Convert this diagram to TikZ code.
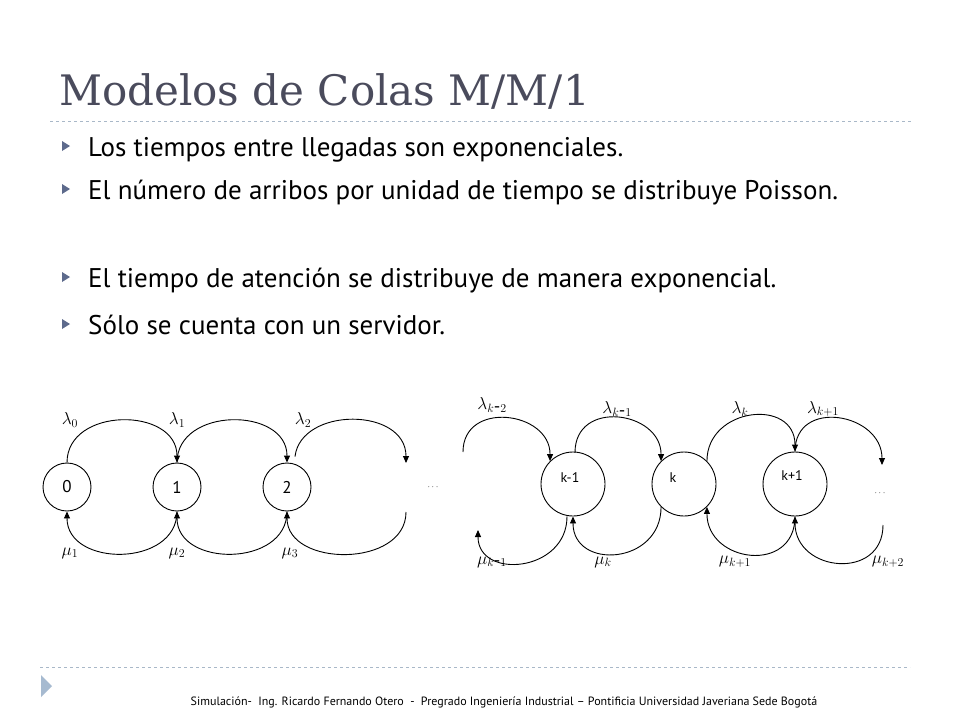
\documentclass[tikz,border=0pt]{standalone}
\usepackage{fontspec}
\setmainfont{PT Sans}
\newfontfamily\titlefont{DejaVu Serif}
\usetikzlibrary{arrows.meta}
\definecolor{titlegray}{HTML}{4A4B5C}
\definecolor{rulecol}{HTML}{A9B8C8}
\definecolor{bulletcol}{HTML}{5D6A8C}
\definecolor{chevcol}{HTML}{A6BAD0}
\tikzset{
  st/.style={circle,draw,line width=0.9pt,inner sep=0pt},
  ar/.style={line width=0.9pt,-{Triangle[length=7pt,width=6pt]}},
  lb/.style={font=\fontsize{18}{18}\selectfont},
  bul/.style={fill=bulletcol},
  btxt/.style={anchor=base west,font=\fontsize{27}{40}\selectfont,inner sep=0pt}
}
\begin{document}
\begin{tikzpicture}[x=1pt,y=-1pt]
\useasboundingbox (0,0) rectangle (960,720);
\fill[white] (0,0) rectangle (960,720);
% title
\node[anchor=base west,inner sep=0pt,text=titlegray,font=\titlefont\fontsize{42}{44}\selectfont] (title) at (59,105) {Modelos de Colas M/M/1};
\draw[rulecol,dashed,line width=0.8pt] (50,121) -- (912,121);
% bullets
\foreach \yy in {156,199,287,334}{\fill[bul] (62,\yy-15) -- (70,\yy-10) -- (62,\yy-5) -- cycle;}
\node[btxt] (b1) at (88,156) {Los tiempos entre llegadas son exponenciales.};
\node[btxt,text width=815pt,align=justify] (b2) at (88,199) {El número de arribos por unidad de tiempo se distribuye Poisson.};
\node[btxt] (b3) at (88,287) {El tiempo de atención se distribuye de manera exponencial.};
\node[btxt] (b4) at (88,334) {Sólo se cuenta con un servidor.};
% left diagram
\node[st,minimum size=48pt] (s0) at (67,487) {\fontsize{17}{17}\selectfont 0};
\node[st,minimum size=48pt] (s1) at (177,487) {\fontsize{17}{17}\selectfont 1};
\node[st,minimum size=48pt] (s2) at (287,487) {\fontsize{17}{17}\selectfont 2};
\coordinate (la) at (406,463);
\coordinate (lb) at (406,512);
\draw[ar] (s0.north) .. controls +(0,-56) and +(0,-56) .. (s1.north);
\draw[ar] (s1.north) .. controls +(0,-56) and +(0,-56) .. (s2.north);
\draw[ar] (s2.north) ++(8,-6) coordinate (s2n) .. controls +(6,-50) and +(0,-56) .. (la);
\draw[ar] (s1.south) .. controls +(0,56) and +(0,56) .. (s0.south);
\draw[ar] (s2.south) .. controls +(0,56) and +(0,56) .. (s1.south);
\draw[ar] (lb) .. controls +(0,56) and +(0,56) .. (s2.south);
\node[lb] (l0) at (70,420) {$\lambda_0$};
\node[lb] (l1) at (177,420) {$\lambda_1$};
\node[lb] (l2) at (303,420) {$\lambda_2$};
\node[lb] (m1) at (70,553) {$\mu_1$};
\node[lb] (m2) at (177,553) {$\mu_2$};
\node[lb] (m3) at (290,553) {$\mu_3$};
\node[font=\small] (d1) at (433,487) {$\cdots$};
% right diagram
\node[st,minimum size=64pt] (k0) at (573,484) {};
\node[font=\fontsize{14}{14}\selectfont] at (570,478) {k-1};
\node[st,minimum size=64pt] (k1) at (684,484) {};
\node[font=\fontsize{14}{14}\selectfont] at (673,478) {k};
\node[st,minimum size=64pt] (k2) at (795,484) {};
\node[font=\fontsize{14}{14}\selectfont] at (792,476) {k+1};
\coordinate (ra) at (463,452);
\coordinate (rb) at (882,465);
\coordinate (rc) at (478,530);
\coordinate (rd) at (883,525);
\draw[ar] (ra) .. controls +(0,-52) and +(0,-50) .. (k0.north west);
\draw[ar] (k0.north) ++(2,1) coordinate (k0n) .. controls +(0,-54) and +(0,-50) .. (k1.north west);
\draw[ar] (k1.north east) .. controls +(0,-54) and +(0,-54) .. (k2.north);
\draw[ar] (k2.north) .. controls +(0,-54) and +(0,-52) .. (rb);
\draw[ar] (k0.south) ++(-6,0) coordinate (k0s) .. controls +(0,56) and +(0,50) .. (rc);
\draw[ar] (k1.south west) .. controls +(0,58) and +(0,54) .. (k0.south);
\draw[ar] (k2.south) .. controls +(0,58) and +(0,56) .. (k1.south east);
\draw[ar] (rd) .. controls +(0,56) and +(0,56) .. (k2.south);
\node[lb] (lk2) at (492,405) {$\lambda_{k\mbox{-}2}$};
\node[lb] (lk1) at (617,409) {$\lambda_{k\mbox{-}1}$};
\node[lb] (lk) at (740,409) {$\lambda_{k}$};
\node[lb] (lkp) at (823,409) {$\lambda_{k+1}$};
\node[lb] (mk1) at (492,562) {$\mu_{k\mbox{-}1}$};
\node[lb] (mk) at (603,562) {$\mu_{k}$};
\node[lb] (mkp) at (735,562) {$\mu_{k+1}$};
\node[lb] (mkpp) at (888,562) {$\mu_{k+2}$};
\node[font=\small] (d2) at (880,493) {$\cdots$};
% footer
\draw[rulecol,dashed,line width=0.8pt] (40,667) -- (910,667);
\fill[chevcol] (41,675) -- (52,686) -- (41,697) -- cycle;
\node[font=\fontsize{12}{12}\selectfont,inner sep=0pt] (foot) at (504,702) {Simulación-\ \ Ing. Ricardo Fernando Otero\ \ -\ \ Pregrado Ingeniería Industrial – Pontificia Universidad Javeriana Sede Bogotá};
\end{tikzpicture}
\end{document}
